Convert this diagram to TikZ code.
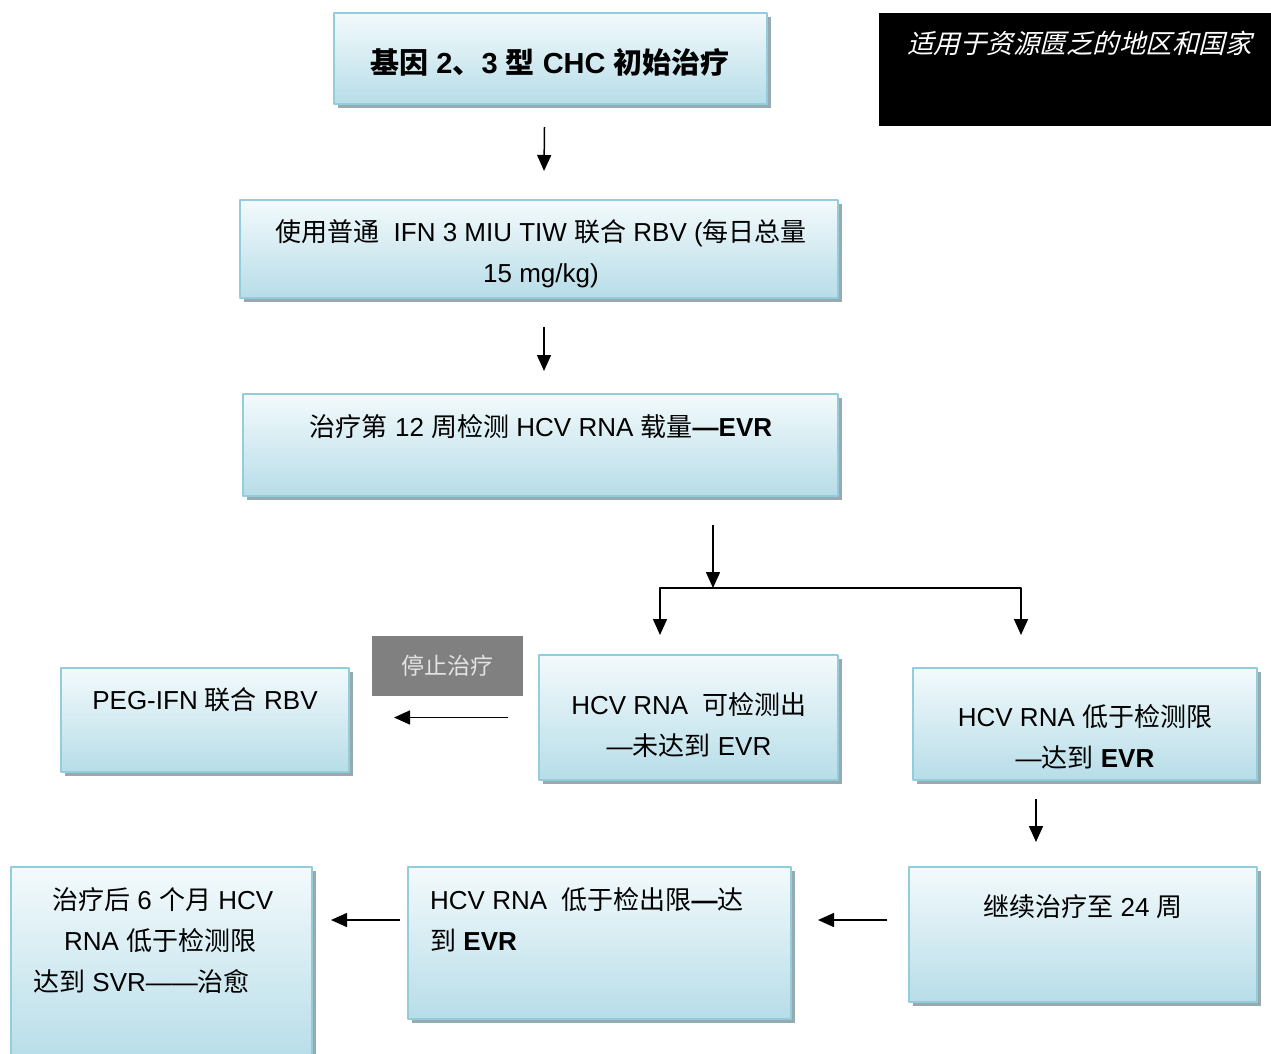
\documentclass[tikz,border=0pt]{standalone}
\usepackage{fontspec}
\setmainfont{Liberation Sans}
\newfontfamily\cjk{Noto Sans CJK SC}
\newfontfamily\cjkit[FakeSlant=0.25]{Noto Sans CJK SC}
\newcommand\zh[1]{{\cjk #1}}
\usetikzlibrary{arrows.meta,shadows}
\definecolor{boxline}{RGB}{147,205,221}
\definecolor{boxtop}{RGB}{243,250,252}
\definecolor{boxbot}{RGB}{183,221,232}
\definecolor{shadowc}{RGB}{150,170,176}
\definecolor{stopgray}{RGB}{128,128,128}
\definecolor{stoptext}{RGB}{228,228,228}
\begin{document}
\begin{tikzpicture}[x=1pt, y=-1pt, line join=round,
	box/.style={draw=boxline, line width=2pt, top color=boxtop, bottom color=boxbot, inner sep=0pt,
		drop shadow={shadow xshift=4pt, shadow yshift=-4pt, fill=shadowc, opacity=1}},
	txt/.style={inner sep=0pt, align=center, font=\fontsize{26}{41}\selectfont},
	arr/.style={line width=1.5pt, -{Triangle[length=16pt,width=14pt]}}]
	\useasboundingbox (0,0) rectangle (1271,1053);
	\node[box, minimum width=433pt, minimum height=91pt] (title) at (550.5,58.5) {};
	\node[txt, font=\fontsize{29}{35}\selectfont\bfseries] (ttitle) at (550,62)
		{\zh{基因} 2\zh{、}3 \zh{型} CHC \zh{初始治疗}};
	\node[fill=black, minimum width=392pt, minimum height=113pt, inner sep=0pt] (note) at (1075,69.5) {};
	\node[txt, anchor=west, text=white, font=\fontsize{26.5}{30}\cjkit] (tnote) at (907,43) {适用于资源匮乏的地区和国家};
	\node[box, minimum width=598pt, minimum height=98pt] (dose) at (539,249) {};
	\node[txt] (tdose) at (541,254)
		{\zh{使用普通}\ \ IFN 3 MIU TIW \zh{联合} RBV (\zh{每日总量}\\15 mg/kg)};
	\node[box, minimum width=595pt, minimum height=102pt] (wk12) at (540.5,445) {};
	\node[txt] (twk12) at (541,427)
		{\zh{治疗第} 12 \zh{周检测} HCV RNA \zh{载量}\textbf{—EVR}};
	\node[box, minimum width=299pt, minimum height=125pt] (noevr) at (688.5,717.5) {};
	\node[txt] (tnoevr) at (689,725) {HCV RNA\ \ \zh{可检测出}\\—\zh{未达到} EVR};
	\node[box, minimum width=344pt, minimum height=112pt] (evr) at (1085,724) {};
	\node[txt] (tevr) at (1085,737) {HCV RNA \zh{低于检测限}\\—\zh{达到} \textbf{EVR}};
	\node[fill=stopgray, minimum width=151pt, minimum height=60pt, inner sep=0pt, text=stoptext,
		font=\fontsize{23}{30}\cjk] (stop) at (447.5,666) {停止治疗};
	\node[box, minimum width=288pt, minimum height=104pt] (peg) at (205,720) {};
	\node[txt] (tpeg) at (205,700) {PEG-IFN \zh{联合} RBV};
	\node[box, minimum width=348pt, minimum height=135pt] (cont) at (1083,934.5) {};
	\node[txt] (tcont) at (1083,907) {\zh{继续治疗至} 24 \zh{周}};
	\node[box, minimum width=383pt, minimum height=152pt] (low) at (599.5,943) {};
	\node[txt, anchor=west, align=left] (tlow) at (430,920)
		{HCV RNA\ \ \zh{低于检出限}\textbf{—}\zh{达}\\\zh{到} \textbf{EVR}};
	\node[box, minimum width=301pt, minimum height=195pt] (svr) at (161.5,964.5) {};
	\node[txt, anchor=west, align=left] (tsvr) at (33,941)
		{\hspace*{19pt}\zh{治疗后} 6 \zh{个月} HCV\\\hspace*{31pt}RNA \zh{低于检测限}\\\zh{达到} SVR——\zh{治愈}};
	\draw[arr] ([xshift=-6pt,yshift=-22pt]title.south) -- ([xshift=5pt,yshift=28pt]dose.north);
	\draw[arr] ([xshift=5pt,yshift=-28pt]dose.south) -- ([xshift=3.5pt,yshift=22pt]wk12.north);
	\coordinate (split) at (713,588);
	\draw[arr] ([xshift=172.5pt,yshift=-28pt]wk12.south) -- (split);
	\draw[arr] (split) -| ([xshift=-28.5pt,yshift=19pt]noevr.north);
	\draw[arr] (split) -| ([xshift=-64pt,yshift=32pt]evr.north);
	\draw[arr] ([xshift=-30pt]noevr.west) -- ([xshift=44pt,yshift=2.5pt]peg.east);
	\draw[arr] ([xshift=-49pt,yshift=-18pt]evr.south) -- ([xshift=-47pt,yshift=24pt]cont.north);
	\draw[arr] ([xshift=-21pt,yshift=14.5pt]cont.west) -- ([xshift=26pt,yshift=23pt]low.east);
	\draw[arr] ([xshift=-7pt,yshift=23pt]low.west) -- ([xshift=18pt,yshift=44.5pt]svr.east);
\end{tikzpicture}
\end{document}
